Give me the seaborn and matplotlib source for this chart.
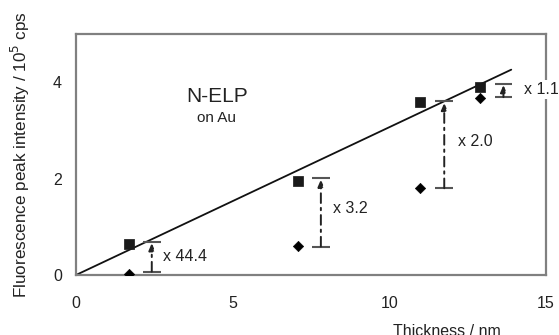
import matplotlib
matplotlib.use("Agg")
import matplotlib.pyplot as plt
import seaborn as sns
import pandas as pd

# ---- data ----
thickness = [1.7, 7.1, 11.0, 12.9]
square_vals = [0.65, 1.96, 3.59, 3.90]
diamond_vals = [0.02, 0.60, 1.80, 3.68]
fit_x = [0.0, 13.9]
fit_y = [0.0, 4.26]
fold_x = [2.42, 7.82, 11.76, 13.65]
fold_lo = [0.07, 0.59, 1.80, 3.69]
fold_hi = [0.69, 2.01, 3.60, 3.97]
fold_labels = ["x 44.4", "x 3.2", "x 2.0", "x 1.1"]
label_x = [2.78, 8.2, 12.2, 14.3]
label_y = [0.38, 1.37, 2.77, 3.85]
xticks = [0, 5, 10, 15]
yticks = [0, 2, 4]

sns.set_theme(style="white")
plt.rcParams["font.family"] = ["Liberation Sans", "DejaVu Sans"]

fig = plt.figure(figsize=(5.59, 3.35), dpi=100)
ax = fig.add_axes([76 / 559, 1 - 275 / 335, (545.7 - 76) / 559, (275 - 34) / 335])

df_sq = pd.DataFrame({"x": thickness, "y": square_vals})
df_di = pd.DataFrame({"x": thickness, "y": diamond_vals})
df_fit = pd.DataFrame({"x": fit_x, "y": fit_y})

sns.lineplot(data=df_fit, x="x", y="y", ax=ax, color="#111111", lw=1.3, zorder=2)
sns.scatterplot(data=df_sq, x="x", y="y", ax=ax, marker="s", s=42, color="#1a1a1a",
                edgecolor="#1a1a1a", zorder=3)
sns.scatterplot(data=df_di, x="x", y="y", ax=ax, marker="D", s=28, color="#000000",
                edgecolor="#000000", zorder=3)

grey = "#555555"
for xi, lo, hi, lab, lx, ly in zip(fold_x, fold_lo, fold_hi, fold_labels, label_x, label_y):
    ax.hlines([lo, hi], xi - 0.28, xi + 0.28, color=grey, lw=1.5, zorder=2)
    ax.annotate("", xy=(xi, hi - 0.03), xytext=(xi, lo),
                arrowprops=dict(arrowstyle="-|>,head_length=0.35,head_width=0.15",
                                color="#222222", lw=1.4, linestyle=(0, (5, 2.5, 1.2, 2.5)),
                                shrinkA=0, shrinkB=0))
    ax.text(lx, ly, lab, fontsize=11.5, ha="left", va="center", color="#222222",
            clip_on=False, zorder=5,
            bbox=dict(facecolor="white", edgecolor="none", pad=1.5))

ax.text(4.5, 3.71, "N-ELP", fontsize=15, ha="center", va="center", color="#222222")
ax.text(4.5, 3.26, "on Au", fontsize=11, ha="center", va="center", color="#222222")

ax.set_xlim(0, 15)
ax.set_ylim(0, 5)
ax.set_xticks(xticks)
ax.set_yticks(yticks)
ax.set_yticks([1, 3], minor=True)
ax.tick_params(axis="both", which="both", direction="out", length=6, width=1.2,
               color="#808080", labelsize=11.5, labelcolor="#222222")
ax.tick_params(axis="x", pad=9)
ax.tick_params(axis="y", pad=4)
for sp in ax.spines.values():
    sp.set_color("#808080")
    sp.set_linewidth(1.6)
    sp.set_visible(True)

ax.set_xlabel("Thickness / nm", fontsize=11.5, color="#222222")
ax.xaxis.set_label_coords(0.79, -0.205)
ax.set_ylabel("Fluorescence peak intensity / 10$^5$ cps", fontsize=12.3, color="#222222")
ax.yaxis.set_label_coords(-0.094, 0.5)

fig.savefig("out.png", dpi=100)
